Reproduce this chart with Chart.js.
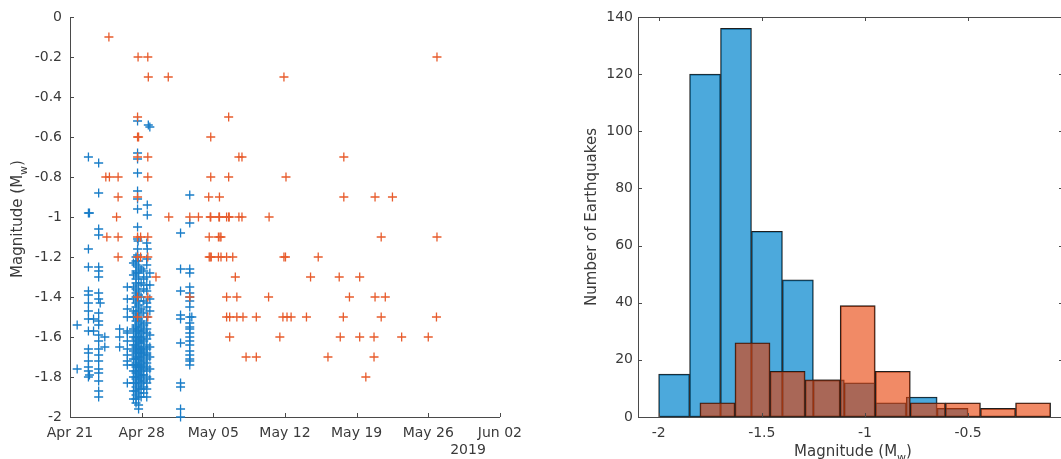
<!DOCTYPE html>
<html>
<head>
<meta charset="utf-8">
<script src="https://cdn.jsdelivr.net/npm/chart.js@4/dist/chart.umd.min.js"></script>
<style>
html,body{margin:0;padding:0;background:#fff;overflow:hidden;width:1061px;height:459px;position:relative;}
#leftBox{position:absolute;left:0;top:0;width:530px;height:459px;}
#rightBox{position:absolute;left:530px;top:0;width:533px;height:459px;}
</style>
</head>
<body>
<div id="leftBox"><canvas id="left" width="530" height="459"></canvas></div>
<div id="rightBox"><canvas id="right" width="533" height="459"></canvas></div>
<script>
// ---------- tick labels ----------
const dateTickLabels = ['Apr 21','Apr 28','May 05','May 12','May 19','May 26','Jun 02']; // every 7 days from Apr 21
const yearLabel = '2019';

// ---------- scatter: [days after Apr 21, magnitude] ----------
const orangeQuakes = [
 [3.8,-0.1],
 [6.65,-0.2],[7.6,-0.2],[35.85,-0.2],
 [7.65,-0.3],[9.6,-0.3],[20.9,-0.3],
 [6.6,-0.5],[15.5,-0.5],
 [6.6,-0.6],[6.7,-0.6],[13.75,-0.6],
 [6.6,-0.7],[7.6,-0.7],[16.5,-0.7],[16.8,-0.7],[26.75,-0.7],
 [3.5,-0.8],[3.85,-0.8],[4.7,-0.8],[7.6,-0.8],[13.75,-0.8],[15.5,-0.8],[21.1,-0.8],
 [4.7,-0.9],[6.6,-0.9],[13.55,-0.9],[14.6,-0.9],[26.75,-0.9],[29.8,-0.9],[31.5,-0.9],
 [4.55,-1],[9.65,-1],[11.7,-1],[12.55,-1],[13.7,-1],[13.75,-1],[14.55,-1],[14.6,-1],[15.3,-1],[15.5,-1],[15.55,-1],[16.5,-1],[16.8,-1],[19.45,-1],
 [3.6,-1.1],[4.7,-1.1],[6.6,-1.1],[6.9,-1.1],[7.6,-1.1],[13.6,-1.1],[14.5,-1.1],[14.65,-1.1],[14.75,-1.1],[30.4,-1.1],[35.85,-1.1],
 [4.7,-1.2],[6.6,-1.2],[6.9,-1.2],[7.6,-1.2],[13.6,-1.2],[13.7,-1.2],[13.8,-1.2],[14.5,-1.2],[14.75,-1.2],[15.3,-1.2],[15.9,-1.2],[20.9,-1.2],[21.05,-1.2],[24.25,-1.2],
 [8.4,-1.3],[16.15,-1.3],[23.5,-1.3],[26.3,-1.3],[28.3,-1.3],
 [6.6,-1.4],[7.6,-1.4],[11.7,-1.4],[15.3,-1.4],[16.3,-1.4],[19.4,-1.4],[27.3,-1.4],[29.8,-1.4],[30.8,-1.4],
 [6.6,-1.5],[7.6,-1.5],[15.3,-1.5],[15.6,-1.5],[16.3,-1.5],[16.9,-1.5],[18.2,-1.5],[20.8,-1.5],[21.2,-1.5],[21.6,-1.5],[23.1,-1.5],[26.7,-1.5],[30.4,-1.5],[35.8,-1.5],
 [15.6,-1.6],[20.5,-1.6],[26.4,-1.6],[28.3,-1.6],[29.7,-1.6],[32.4,-1.6],[35.0,-1.6],
 [17.2,-1.7],[18.2,-1.7],[25.2,-1.7],[29.7,-1.7],
 [28.9,-1.8]
];

const blueGroupA = [
 [1.8,-0.70],[2.8,-0.73],[2.8,-0.88],[1.8,-0.98],[1.9,-0.98],[2.8,-1.06],[2.8,-1.09],[1.8,-1.16],
 [1.8,-1.25],[2.8,-1.25],[2.8,-1.27],[2.8,-1.30],[1.8,-1.37],[1.8,-1.39],[2.8,-1.38],[2.8,-1.41],
 [2.95,-1.43],[1.8,-1.43],[1.8,-1.47],[1.8,-1.51],[2.3,-1.51],[2.8,-1.48],[2.8,-1.52],[2.8,-1.54],
 [0.7,-1.54],[1.8,-1.57],[2.3,-1.57],[2.8,-1.59],[2.8,-1.62],[3.4,-1.60],[3.4,-1.65],[1.8,-1.66],
 [1.8,-1.68],[2.8,-1.66],[2.8,-1.69],[2.8,-1.72],[1.8,-1.72],[1.8,-1.75],[1.8,-1.77],[2.8,-1.76],
 [2.8,-1.78],[2.8,-1.82],[0.7,-1.76],[1.9,-1.79],[1.8,-1.80],[2.8,-1.87],[2.8,-1.90]
];
const blueGroupB = [
 [5.6,-1.35],[5.6,-1.41],[5.6,-1.46],[5.6,-1.50],[4.85,-1.56],[5.6,-1.57],[5.6,-1.58],[4.85,-1.60],
 [5.6,-1.62],[4.85,-1.65],[5.6,-1.66],[5.6,-1.69],[5.6,-1.72],[5.6,-1.74],[5.6,-1.83]
];
const blueGroupD = [
 [11.7,-0.89],[11.7,-1.03],[10.8,-1.08],[10.8,-1.26],[11.7,-1.26],[11.7,-1.28],[11.7,-1.35],[10.8,-1.37],
 [11.7,-1.38],[11.7,-1.40],[11.7,-1.42],[11.7,-1.45],[10.8,-1.49],[10.8,-1.51],[11.7,-1.50],[11.9,-1.50],
 [11.7,-1.53],[11.7,-1.55],[11.7,-1.56],[11.7,-1.58],[11.7,-1.60],[11.7,-1.62],[10.8,-1.63],[11.7,-1.64],
 [11.7,-1.67],[11.7,-1.69],[11.7,-1.71],[11.7,-1.72],[11.7,-1.74],[10.8,-1.83],[10.8,-1.85],[10.8,-1.96],[10.8,-2.0]
];
const blueColumnUpper = [
 [6.6,-0.52],[7.65,-0.54],[7.8,-0.55],[6.6,-0.68],[6.6,-0.71],[6.6,-0.78],[6.6,-0.87],[6.6,-0.91],
 [7.55,-0.94],[6.6,-0.96],[7.55,-0.99],[6.6,-1.05],[6.6,-1.11],[6.65,-1.12],[7.55,-1.16],[6.6,-1.16],[6.6,-1.19]
];
// dense Apr 27-28 column: magnitudes listed per day position
const colDays = [6.2, 6.45, 6.7, 6.95, 7.2, 7.5, 7.8];
const colMags62 = [-1.23,-1.29,-1.35,-1.41,-1.47,-1.5,-1.56,-1.6,-1.64,-1.67,-1.71,-1.74,-1.77,-1.8,-1.83,-1.87,-1.91];
const colMags645 = [-1.2,-1.22,-1.24,-1.27,-1.28,-1.31,-1.33,-1.36,-1.38,-1.4,-1.43,-1.45,-1.48,-1.5,-1.52,-1.54,-1.55,-1.57,-1.58,-1.6,-1.61,-1.62,-1.64,-1.65,-1.66,-1.68,-1.69,-1.7,-1.71,-1.73,-1.74,-1.75,-1.77,-1.78,-1.8,-1.81,-1.83,-1.85,-1.87,-1.89,-1.91,-1.93];
const colMags67 = [-1.22,-1.25,-1.28,-1.3,-1.34,-1.37,-1.39,-1.42,-1.44,-1.47,-1.49,-1.51,-1.53,-1.56,-1.57,-1.59,-1.6,-1.62,-1.63,-1.65,-1.66,-1.67,-1.68,-1.7,-1.71,-1.72,-1.74,-1.75,-1.76,-1.78,-1.79,-1.8,-1.82,-1.84,-1.86,-1.88,-1.9,-1.94,-1.96];
const colMags695 = [-1.26,-1.33,-1.4,-1.46,-1.52,-1.55,-1.58,-1.61,-1.63,-1.66,-1.68,-1.7,-1.73,-1.75,-1.77,-1.79,-1.81,-1.83,-1.86,-1.9];
const colMags72 = [-1.27,-1.31,-1.36,-1.42,-1.48,-1.54,-1.57,-1.6,-1.62,-1.65,-1.67,-1.69,-1.72,-1.74,-1.76,-1.79,-1.82,-1.85,-1.88];
const colMags75 = [-1.13,-1.21,-1.24,-1.3,-1.34,-1.37,-1.43,-1.45,-1.5,-1.53,-1.56,-1.58,-1.61,-1.64,-1.66,-1.68,-1.69,-1.71,-1.73,-1.75,-1.77,-1.8,-1.83,-1.86,-1.9];
const colMags78 = [-1.28,-1.34,-1.41,-1.47,-1.59,-1.65,-1.7,-1.76,-1.81];
const colMagLists = [colMags62, colMags645, colMags67, colMags695, colMags72, colMags75, colMags78];

// ---------- histogram ----------
const blueBinStart = -2.0, blueBinWidth = 0.15;
const blueCounts = [15,120,136,65,48,13,12,5,7,3];
const orangeBinStart = -1.8, orangeBinWidth = 0.17;
const orangeCounts = [5,26,16,13,39,16,5,5,3,5];
const histMagRange = [-2.1, -0.04];   // visible magnitude range of the histogram panel

// ---------- styling ----------
const FONT = '"DejaVu Sans", Verdana, sans-serif';
const textColor = '#3a3a3a';
const axisColor = '#4a4a4a';
const blueMarker = 'rgb(25,125,200)';
const orangeMarker = 'rgb(232,92,45)';

function fmt(v){ return String(+(+v).toFixed(2)); }

function drawRich(ctx, parts, cx, cy, rot, size){
  ctx.save();
  ctx.translate(cx, cy);
  ctx.rotate(rot);
  ctx.fillStyle = textColor;
  ctx.textBaseline = 'middle';
  ctx.textAlign = 'left';
  const widths = parts.map(p => { ctx.font = (p.sub ? Math.round(size*0.7) : size) + 'px ' + FONT; return ctx.measureText(p.t).width; });
  let x = -widths.reduce((a,b)=>a+b,0)/2;
  parts.forEach((p,i) => {
    ctx.font = (p.sub ? Math.round(size*0.7) : size) + 'px ' + FONT;
    ctx.fillText(p.t, x, p.sub ? size*0.4 : 0);
    x += widths[i];
  });
  ctx.restore();
}

const axisTitles = {
  id: 'axisTitles',
  afterDraw(chart, args, opts){
    (opts.items || []).forEach(it => drawRich(chart.ctx, it.parts, it.x, it.y, it.rot || 0, it.size || 15));
  }
};

const innerTicks = {
  id: 'innerTicks',
  afterDatasetsDraw(chart, args, opts){
    const {ctx, chartArea: a} = chart;
    const xs = chart.scales.x, ys = chart.scales.y;
    const L = opts.len || 4;
    ctx.save();
    ctx.strokeStyle = axisColor;
    ctx.lineWidth = 1;
    ctx.beginPath();
    xs.ticks.forEach((t,i) => {
      const x = Math.round(xs.getPixelForTick(i)) + 0.5;
      ctx.moveTo(x, a.bottom); ctx.lineTo(x, a.bottom - L);
      if (opts.box){ ctx.moveTo(x, a.top); ctx.lineTo(x, a.top + L); }
    });
    ys.ticks.forEach((t,i) => {
      const y = Math.round(ys.getPixelForTick(i)) + 0.5;
      ctx.moveTo(a.left, y); ctx.lineTo(a.left + L, y);
      if (opts.box){ ctx.moveTo(a.right, y); ctx.lineTo(a.right - L, y); }
    });
    if (opts.box){ ctx.moveTo(a.left, Math.round(a.top) + 0.5); ctx.lineTo(a.right, Math.round(a.top) + 0.5); }
    ctx.stroke();
    ctx.restore();
  }
};

const tickFont = {family: FONT, size: 14};
const magTitle = [{t:'Magnitude (M'},{t:'w',sub:true},{t:')'}];

// ---------- build scatter points ----------
const toPt = ([d,m]) => ({x:d, y:m});
const bluePoints = [...blueGroupA, ...blueGroupB, ...blueGroupD, ...blueColumnUpper].map(toPt);
colMagLists.forEach((mags, i) => mags.forEach(m => bluePoints.push({x: colDays[i], y: m})));
const orangePoints = orangeQuakes.map(toPt);

new Chart(document.getElementById('left'), {
  type: 'scatter',
  data: { datasets: [
    { label:'later', data: orangePoints, pointStyle:'cross', pointRadius:4.5, borderWidth:1.3,
      borderColor: orangeMarker, backgroundColor: orangeMarker, clip:false, order:0 },
    { label:'early', data: bluePoints, pointStyle:'cross', pointRadius:4.5, borderWidth:1.3,
      borderColor: blueMarker, backgroundColor: blueMarker, clip:false, order:1 }
  ]},
  options: {
    responsive:false, animation:false, events:[],
    layout:{padding:{top:17, right:30, left:0, bottom:0}},
    plugins:{
      legend:{display:false}, tooltip:{enabled:false},
      innerTicks:{box:false, len:4},
      axisTitles:{items:[
        {parts: magTitle, x:18, y:219, rot:-Math.PI/2, size:15},
        {parts: [{t: yearLabel}], x:468, y:450, rot:0, size:14}
      ]}
    },
    scales:{
      x:{ type:'linear', min:0, max:42, offset:false,
          afterFit: s => { s.height = 42; },
          ticks:{ stepSize:7, padding:8, color:textColor, font:tickFont, maxRotation:0, autoSkip:false,
                  callback: v => dateTickLabels[Math.round(v/7)] ?? '' },
          grid:{display:false, drawTicks:false},
          border:{display:true, color:axisColor, width:1} },
      y:{ type:'linear', min:-2, max:0,
          afterFit: s => { s.width = 70; },
          ticks:{ stepSize:0.2, padding:8, color:textColor, font:tickFont, callback: v => fmt(v) },
          grid:{display:false, drawTicks:false},
          border:{display:true, color:axisColor, width:1} }
    }
  },
  plugins:[innerTicks, axisTitles]
});

// ---------- histogram ----------
const blueHist = blueCounts.map((c,i) => ({x: blueBinStart + (i+0.5)*blueBinWidth, y: c}));
const orangeHist = orangeCounts.map((c,i) => ({x: orangeBinStart + (i+0.5)*orangeBinWidth, y: c}));

const xScaleCommon = {
  type:'linear', min:histMagRange[0], max:histMagRange[1], offset:false,
  ticks:{ stepSize:0.5, includeBounds:false, padding:8, color:textColor, font:tickFont, maxRotation:0, autoSkip:false,
          callback: v => (Math.abs(v) < 1e-9 ? '' : fmt(v)) },
  grid:{display:false, drawTicks:false, offset:false},
  border:{display:true, color:axisColor, width:1}
};

new Chart(document.getElementById('right'), {
  type:'bar',
  data:{ datasets:[
    { label:'later', data: orangeHist, xAxisID:'x2', yAxisID:'y', grouped:false,
      backgroundColor:'rgba(232,60,0,0.6)', borderColor:'#1e1e1e', borderWidth:1, borderSkipped:false,
      barPercentage:1, categoryPercentage:1, order:0 },
    { label:'early', data: blueHist, xAxisID:'x', yAxisID:'y', grouped:false,
      backgroundColor:'rgba(0,132,205,0.7)', borderColor:'#1e1e1e', borderWidth:1, borderSkipped:false,
      barPercentage:1, categoryPercentage:1, order:1 }
  ]},
  options:{
    responsive:false, animation:false, events:[],
    layout:{padding:{top:17, right:0, left:0, bottom:0}},
    plugins:{
      legend:{display:false}, tooltip:{enabled:false},
      innerTicks:{box:true, len:4},
      axisTitles:{items:[
        {parts:[{t:'Number of Earthquakes'}], x:62, y:217, rot:-Math.PI/2, size:15},
        {parts: magTitle, x:323, y:452, rot:0, size:15}
      ]}
    },
    scales:{
      x: Object.assign({}, xScaleCommon, { afterFit: s => { s.height = 42; } }),
      x2: Object.assign({}, xScaleCommon, { display:false }),
      y:{ type:'linear', min:0, max:140, beginAtZero:true,
          afterFit: s => { s.width = 108; },
          ticks:{ stepSize:20, padding:5, color:textColor, font:tickFont, callback: v => fmt(v) },
          grid:{display:false, drawTicks:false},
          border:{display:true, color:axisColor, width:1} }
    }
  },
  plugins:[innerTicks, axisTitles]
});
</script>
</body>
</html>
